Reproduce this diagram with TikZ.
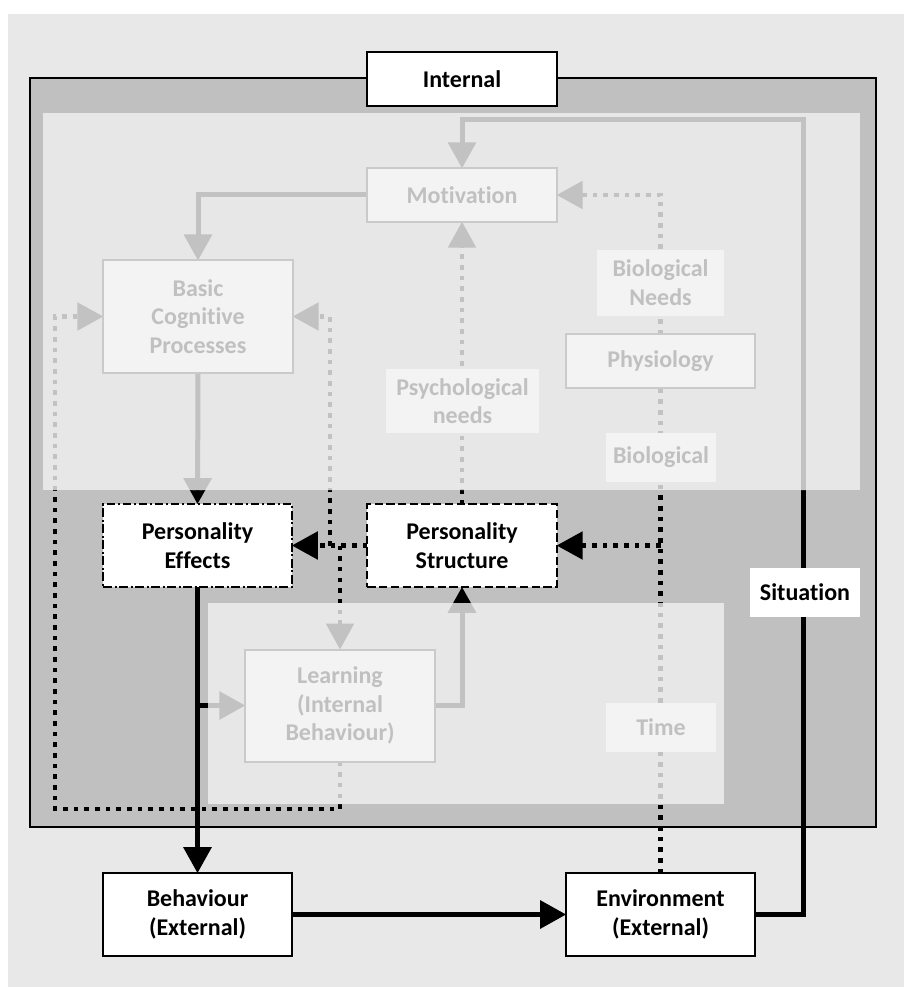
\documentclass[tikz,border=0pt]{standalone}
\usepackage{fontspec}
\setmainfont{Carlito}[Ligatures=NoCommon]
\usetikzlibrary{arrows.meta}
\pgfdeclarelayer{back}
\pgfdeclarelayer{links}
\pgfsetlayers{back,links,main}

\definecolor{pagegray}{HTML}{E8E8E8}
\definecolor{bandgray}{HTML}{C0C0C0}
\definecolor{panelgray}{HTML}{E7E7E7}
\definecolor{fadeline}{HTML}{C2C2C2}
\definecolor{fadefill}{HTML}{F3F3F3}
\definecolor{fadeborder}{HTML}{CACACA}
\definecolor{fadetext}{HTML}{C0C0C0}

\tikzset{
  x=0.75pt, y=-0.75pt,
  every node/.style={font=\fontsize{18pt}{21.5pt}\selectfont\bfseries, align=center,
    inner sep=0pt, outer sep=0pt},
  keybox/.style={draw=black, line width=1.5pt, fill=white, text=black},
  fadebox/.style={draw=fadeborder, line width=1.5pt, fill=fadefill, text=fadetext},
  fadelabel/.style={fill=fadefill, text=fadetext},
  sitlabel/.style={fill=white, text=black},
  effectsborder/.style={dash pattern=on 6.5pt off 2pt on 1.5pt off 2pt},
  structborder/.style={dash pattern=on 6.2pt off 2.6pt},
  flow/.style={line width=3.75pt, -{Triangle[length=19.5pt,width=20.5pt]}},
  dotflow/.style={line width=3.2pt, dash pattern=on 3.4pt off 4.6pt,
    -{Triangle[length=19.5pt,width=20.5pt]}},
  dotplain/.style={line width=3.2pt, dash pattern=on 3.4pt off 4.6pt},
}

% every connector of the model, drawn in the colour given
\newcommand\modellinks[1]{%
  \begin{scope}[draw=#1, fill=#1, color=#1]
    % situation feedback loop
    \draw[flow] (envir.east) -| (loopcorner) -| (motiv.north);
    % solid flows
    \draw[flow] (motiv.west) -| (basic.north);
    \draw[flow] (basic.south) -- (peff.north);
    \draw[flow] (peff.south) -- (behav.north);
    \draw[flow] (peff.south |- learn.west) -- (learn.west);
    \draw[flow] (learn.east) -| (pstr.south);
    \draw[flow] (behav.east) -- (envir.west);
    % dotted influences
    \draw[dotplain] (envir.north) -- (physio.south);
    \draw[dotflow] (envir.north |- pstr.east) -- (pstr.east);
    \draw[dotflow] (physio.north) |- (motiv.east);
    \draw[dotflow] (pstr.north) -- (motiv.south);
    \draw[dotflow] (pstr.west) -- (peff.east);
    \draw[dotflow] (hubup) |- (basic.east);
    \draw[dotflow] (learn.north |- pstr.west) -- (learn.north);
    \draw[dotflow] (learn.south) |- (loopleft) |- (basic.west);
  \end{scope}%
}

\begin{document}
\begin{tikzpicture}
\useasboundingbox (0,0) rectangle (904,987);

% page, outer frame and the two light panels
\begin{pgfonlayer}{back}
  \fill[pagegray] (8,14) rectangle (904,987);
  \draw[fill=bandgray, draw=black, line width=1.5pt] (30,78) rectangle (876,827);
  \fill[panelgray] (43,113) rectangle (860,490);
  \fill[panelgray] (208,603) rectangle (724,804);
\end{pgfonlayer}

% faded inner components
\node[fadebox, minimum width=142pt, minimum height=40pt] (motiv) at (462,195) {Motivation};
\node[fadebox, minimum width=142pt, minimum height=84pt] (basic) at (198,316.5) {Basic\\Cognitive\\Processes};
\node[fadelabel, minimum width=95pt, minimum height=49.5pt] (bioneeds) at (660.5,283) {Biological\\Needs};
\node[fadebox, minimum width=141.5pt, minimum height=40pt] (physio) at (660.5,361) {Physiology};
\node[fadelabel, minimum width=114.5pt, minimum height=48pt] (psych) at (462.5,401) {Psychological\\needs};
\node[fadelabel, minimum width=82.5pt, minimum height=36.75pt] (biol) at (661,457.5) {Biological};
\node[fadebox, minimum width=142pt, minimum height=84pt] (learn) at (340,705.5) {Learning\\(Internal\\Behaviour)};
\node[fadelabel, minimum width=82.5pt, minimum height=36.75pt] (time) at (661,727.5) {Time};

% key components
\node[keybox, minimum width=142pt, minimum height=40pt] (internal) at (462,79) {Internal};
\node[keybox, effectsborder, minimum width=141.5pt, minimum height=62pt] (peff) at (197.5,545.5) {Personality\\Effects};
\node[keybox, structborder, minimum width=142pt, minimum height=62pt] (pstr) at (462,545.5) {Personality\\Structure};
\node[keybox, minimum width=141.5pt, minimum height=62pt] (behav) at (197.5,914.5) {Behaviour\\(External)};
\node[keybox, minimum width=141.5pt, minimum height=62pt] (envir) at (660.5,914.5) {Environment\\(External)};
\node[sitlabel, minimum width=82.5pt, minimum height=36.75pt] (situation) at (805,592.5) {Situation};

% bend points of the routed connectors
\coordinate (loopcorner) at (803,120);
\coordinate (hubup) at (330,545.5);
\coordinate (loopleft) at (55,809);

% connectors: black on the dark band, faded inside the light panels
\begin{pgfonlayer}{links}
  \begin{scope}[even odd rule]
    \clip (0,0) rectangle (904,987)
      (43,113) rectangle (860,490) (208,603) rectangle (724,804);
    \modellinks{black}
  \end{scope}
  \begin{scope}
    \clip (43,113) rectangle (860,490) (208,603) rectangle (724,804);
    \modellinks{fadeline}
  \end{scope}
\end{pgfonlayer}
\end{tikzpicture}
\end{document}
